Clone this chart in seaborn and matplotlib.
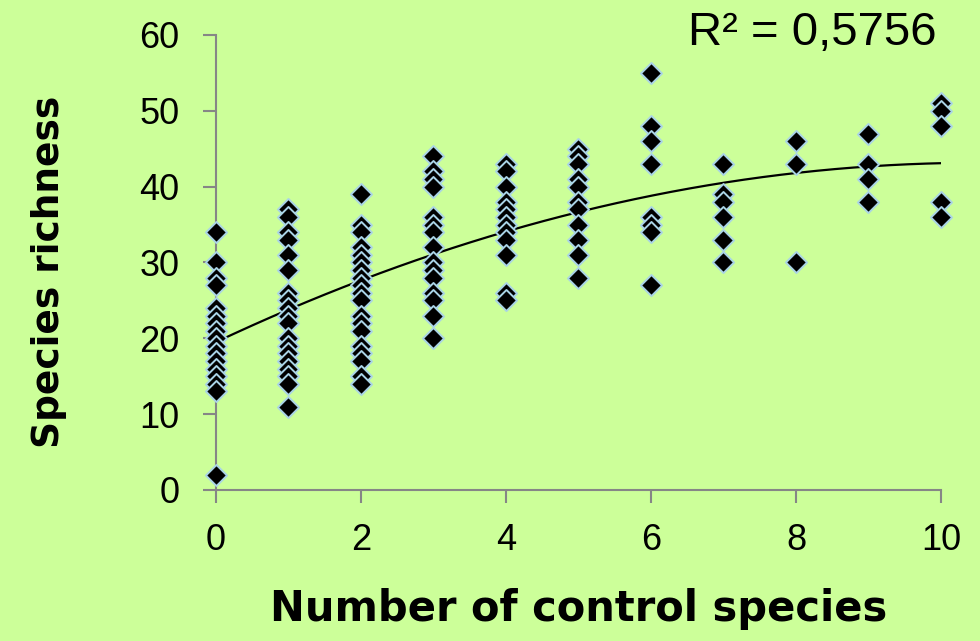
import numpy as np
import pandas as pd
import seaborn as sns
import matplotlib
matplotlib.use("Agg")
import matplotlib.pyplot as plt

# species richness per number of control species
n_control = [0, 1, 2, 3, 4, 5, 6, 7, 8, 9, 10]
richness = [
    [34, 30, 28, 27, 24, 23, 22, 21, 20, 19, 18, 17, 16, 15, 14, 13, 2],
    [37, 36, 34, 33, 31, 29, 26, 25, 24, 23, 22, 20, 19, 18, 17, 16, 15, 14, 11],
    [39, 35, 34, 32, 31, 30, 29, 28, 27, 26, 25, 23, 22, 21, 19, 18, 17, 15, 14],
    [44, 42, 41, 40, 36, 35, 34, 32, 30, 29, 28, 26, 25, 23, 20],
    [43, 42, 40, 38, 37, 36, 35, 34, 33, 31, 26, 25],
    [45, 44, 43, 41, 40, 38, 37, 35, 33, 31, 28],
    [55, 48, 46, 43, 36, 35, 34, 27],
    [43, 39, 38, 36, 33, 30],
    [46, 43, 30],
    [47, 43, 41, 38],
    [51, 50, 48, 38, 36],
]
r2_label = "R² = 0,5756"
x_ticks = [0, 2, 4, 6, 8, 10]
y_ticks = [0, 10, 20, 30, 40, 50, 60]

BG = "#CCFF99"
AXIS = "#868686"

df = pd.DataFrame({
    "control": np.repeat(n_control, [len(r) for r in richness]),
    "richness": np.concatenate(richness),
})

sns.set_style("white")
plt.rcParams["font.family"] = ["Liberation Sans", "DejaVu Sans"]
plt.rcParams["text.color"] = "black"
plt.rcParams["axes.labelcolor"] = "black"

fig = plt.figure(figsize=(9.8, 6.41), dpi=100, facecolor=BG)
ax = fig.add_axes([0.2204, 0.2356, 0.7398, 0.7098])
ax.set_facecolor(BG)

# 2nd order polynomial trendline, like the Excel one
coef = np.polyfit(df["control"], df["richness"], 2)
xs = np.linspace(0, 10, 200)
sns.lineplot(x=xs, y=np.polyval(coef, xs), color="black", linewidth=1.6, ax=ax, zorder=2)

sns.scatterplot(data=df, x="control", y="richness", marker="D", s=115,
                color="black", edgecolor="#A9D3E6", linewidth=1.4, ax=ax,
                zorder=3, clip_on=False)

ax.set_xlim(0, 10)
ax.set_ylim(0, 60)
ax.set_xticks(x_ticks)
ax.set_yticks(y_ticks)
ax.tick_params(axis="both", labelsize=26, length=9.5, width=1.5, color=AXIS,
               labelcolor="black", direction="out", left=True, bottom=True)
ax.tick_params(axis="y", pad=17)
ax.tick_params(axis="x", pad=14)

sns.despine(ax=ax)
for side in ["left", "bottom"]:
    ax.spines[side].set_color(AXIS)
    ax.spines[side].set_linewidth(1.5)

ax.set_xlabel("Number of control species", fontsize=30, fontweight="bold",
              family="DejaVu Sans")
ax.set_ylabel("Species richness", fontsize=27, fontweight="bold",
              family="DejaVu Sans")
ax.xaxis.set_label_coords(0.5, -0.215)
ax.yaxis.set_label_coords(-0.205, 0.48)

ax.text(0.9945, 0.978, r2_label, transform=ax.transAxes, ha="right",
        va="baseline", fontsize=34)

fig.savefig("out.png", dpi=100, facecolor=BG)
